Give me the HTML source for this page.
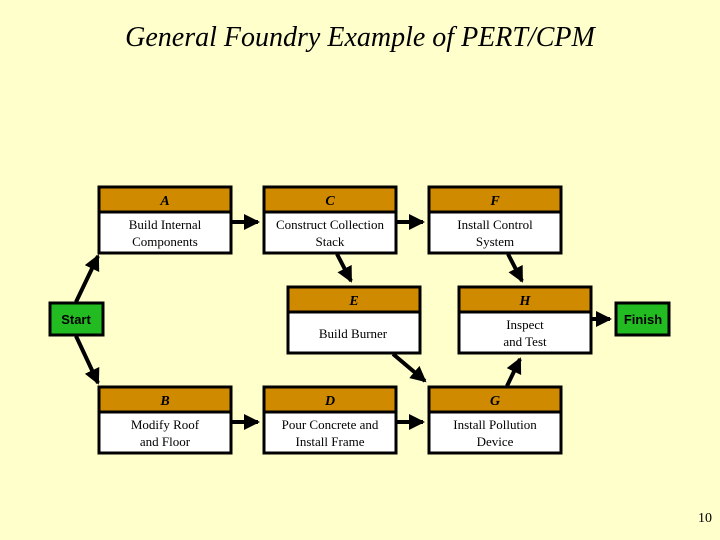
<!DOCTYPE html>
<html><head><style>
html,body{margin:0;padding:0;background:#ffffcc;}
svg{display:block;}
.t{font-family:"Liberation Serif",serif;font-size:13px;fill:#000;text-anchor:middle;}
.h{font-family:"Liberation Serif",serif;font-size:14px;font-style:italic;font-weight:bold;fill:#000;text-anchor:middle;}
.g{font-family:"Liberation Sans",sans-serif;font-size:13px;font-weight:bold;fill:#000;text-anchor:middle;}
</style></head><body>
<svg width="720" height="540" viewBox="0 0 720 540" xmlns="http://www.w3.org/2000/svg">
<defs><marker id="ar" markerWidth="4" markerHeight="4" refX="3.5" refY="2" orient="auto" markerUnits="strokeWidth"><path d="M0,0 L4,2 L0,4 z" fill="#000"/></marker></defs>
<rect width="720" height="540" fill="#ffffcc"/>
<text x="360" y="46" style="font-family:'Liberation Serif',serif;font-size:28px;font-style:italic;text-anchor:middle">General Foundry Example of PERT/CPM</text>
<g stroke="#000" stroke-width="4" fill="none" marker-end="url(#ar)">
<line x1="76" y1="302" x2="98" y2="256"/>
<line x1="76" y1="336" x2="98" y2="383"/>
<line x1="232" y1="222" x2="258" y2="222"/>
<line x1="397" y1="222" x2="423" y2="222"/>
<line x1="232" y1="422" x2="258" y2="422"/>
<line x1="397" y1="422" x2="423" y2="422"/>
<line x1="337" y1="254" x2="351" y2="281"/>
<line x1="508" y1="254" x2="522" y2="281"/>
<line x1="393" y1="354" x2="425" y2="381"/>
<line x1="507" y1="386" x2="520" y2="359"/>
<line x1="592" y1="319" x2="610" y2="319"/>
</g>
<g stroke="#000" stroke-width="3">
<rect x="99" y="187" width="132" height="66" fill="#fff"/><rect x="99" y="187" width="132" height="25" fill="#d08a00"/>
<rect x="264" y="187" width="132" height="66" fill="#fff"/><rect x="264" y="187" width="132" height="25" fill="#d08a00"/>
<rect x="429" y="187" width="132" height="66" fill="#fff"/><rect x="429" y="187" width="132" height="25" fill="#d08a00"/>
<rect x="288" y="287" width="132" height="66" fill="#fff"/><rect x="288" y="287" width="132" height="25" fill="#d08a00"/>
<rect x="459" y="287" width="132" height="66" fill="#fff"/><rect x="459" y="287" width="132" height="25" fill="#d08a00"/>
<rect x="99" y="387" width="132" height="66" fill="#fff"/><rect x="99" y="387" width="132" height="25" fill="#d08a00"/>
<rect x="264" y="387" width="132" height="66" fill="#fff"/><rect x="264" y="387" width="132" height="25" fill="#d08a00"/>
<rect x="429" y="387" width="132" height="66" fill="#fff"/><rect x="429" y="387" width="132" height="25" fill="#d08a00"/>
<rect x="50" y="303" width="53" height="32" fill="#22bb22"/>
<rect x="616" y="303" width="53" height="32" fill="#22bb22"/>
</g>
<text class="h" x="165" y="205">A</text><text class="t" x="165" y="229">Build Internal</text><text class="t" x="165" y="246">Components</text>
<text class="h" x="330" y="205">C</text><text class="t" x="330" y="229">Construct Collection</text><text class="t" x="330" y="246">Stack</text>
<text class="h" x="495" y="205">F</text><text class="t" x="495" y="229">Install Control</text><text class="t" x="495" y="246">System</text>
<text class="h" x="354" y="305">E</text><text class="t" x="353" y="338">Build Burner</text>
<text class="h" x="525" y="305">H</text><text class="t" x="525" y="329">Inspect</text><text class="t" x="525" y="346">and Test</text>
<text class="h" x="165" y="405">B</text><text class="t" x="165" y="429">Modify Roof</text><text class="t" x="165" y="446">and Floor</text>
<text class="h" x="330" y="405">D</text><text class="t" x="330" y="429">Pour Concrete and</text><text class="t" x="330" y="446">Install Frame</text>
<text class="h" x="495" y="405">G</text><text class="t" x="495" y="429">Install Pollution</text><text class="t" x="495" y="446">Device</text>
<text class="g" x="76" y="324">Start</text>
<text class="g" x="643" y="324">Finish</text>
<text x="705" y="522" style="font-family:'Liberation Serif',serif;font-size:14px;text-anchor:middle">10</text>
</svg>
</body></html>
